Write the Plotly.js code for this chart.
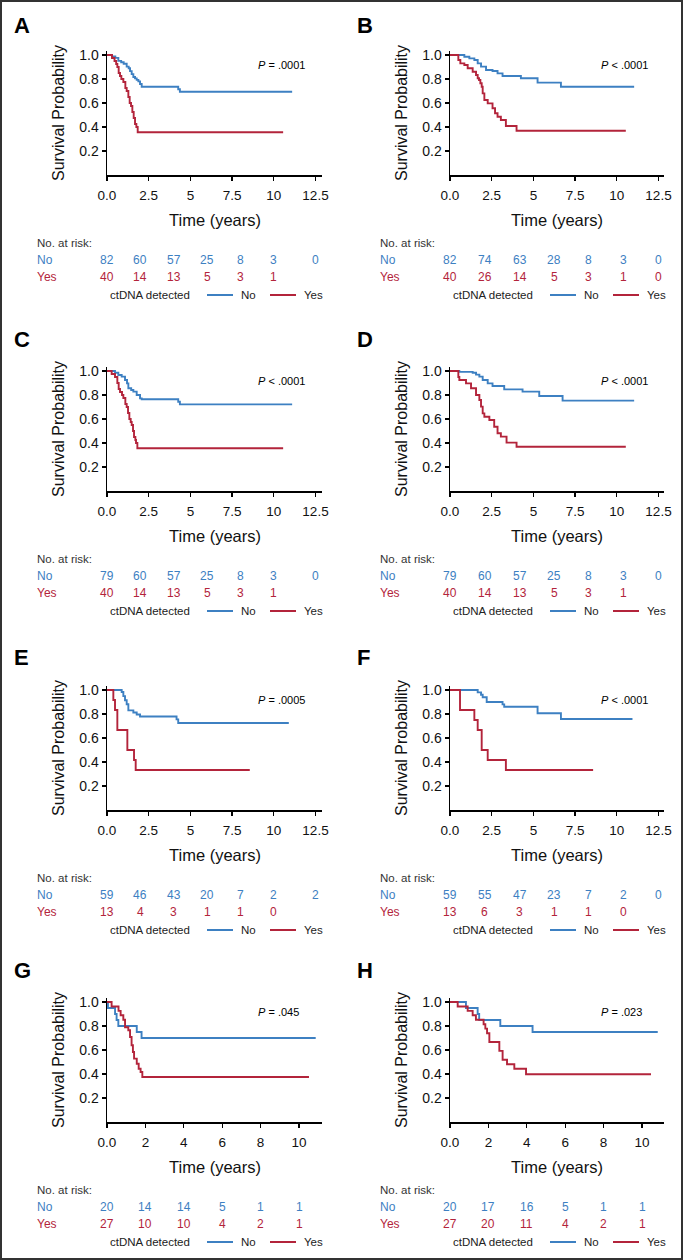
<!DOCTYPE html>
<html><head><meta charset="utf-8">
<script src="https://cdn.plot.ly/plotly-3.0.1.min.js"></script>
<style>html,body{margin:0;padding:0;background:#fff}#chart{width:683px;height:1260px}</style>
</head><body><div id="chart"></div>
<script>
// ---------------- DATA ----------------
const panelLabels = ['A','B','C','D','E','F','G','H'];
const pValues = ['<i>P</i> = .0001','<i>P</i> < .0001','<i>P</i> < .0001','<i>P</i> < .0001','<i>P</i> = .0005','<i>P</i> < .0001','<i>P</i> = .045','<i>P</i> = .023'];

// Panel A
const aNoT  = [0,0.3,0.5,0.68,0.85,1.0,1.18,1.3,1.38,1.48,1.58,1.68,1.78,1.88,1.98,2.08,4.27,4.37,11.1];
const aNoS  = [1.0,0.988,0.976,0.951,0.939,0.927,0.903,0.89,0.866,0.841,0.817,0.805,0.793,0.78,0.758,0.736,0.714,0.694,0.694];
const aYesT = [0,0.3,0.45,0.55,0.62,0.7,0.78,0.86,0.98,1.1,1.18,1.28,1.36,1.44,1.52,1.6,1.68,1.76,1.84,10.56];
const aYesS = [1.0,0.975,0.95,0.925,0.9,0.85,0.825,0.8,0.775,0.725,0.7,0.65,0.6,0.575,0.525,0.475,0.425,0.4,0.356,0.356];
// Panel B
const bNoT  = [0,0.86,1.16,1.46,1.66,1.86,2.16,2.55,2.85,3.15,4.25,5.25,6.65,11.04];
const bNoS  = [1.0,0.986,0.972,0.958,0.93,0.903,0.875,0.867,0.847,0.825,0.806,0.77,0.736,0.736];
const bYesT = [0,0.5,0.62,0.86,1.06,1.36,1.56,1.66,1.74,1.82,1.9,1.96,2.06,2.26,2.55,2.7,2.85,3.05,3.35,3.99,10.54];
const bYesS = [1.0,0.958,0.93,0.917,0.889,0.861,0.833,0.806,0.792,0.764,0.736,0.68,0.625,0.597,0.556,0.514,0.486,0.458,0.408,0.369,0.369];
// Panel C
const cNoT  = [0,0.48,0.68,0.88,1.08,1.2,1.28,1.45,1.58,1.78,1.98,2.08,4.27,4.37,11.1];
const cNoS  = [1.0,0.986,0.967,0.953,0.925,0.897,0.856,0.842,0.828,0.8,0.772,0.764,0.744,0.722,0.722];
const cYesT = [0,0.28,0.48,0.62,0.7,0.78,0.9,0.98,1.1,1.18,1.26,1.34,1.42,1.48,1.56,1.62,1.7,1.74,1.82,10.56];
const cYesS = [1.0,0.975,0.95,0.9,0.85,0.825,0.8,0.775,0.725,0.7,0.65,0.6,0.575,0.55,0.5,0.45,0.425,0.4,0.356,0.356];
// Panel D
const dNoT  = [0,0.56,1.36,1.56,1.76,1.96,2.26,2.55,3.25,4.35,5.35,6.75,11.04];
const dNoS  = [1.0,0.993,0.986,0.97,0.953,0.925,0.897,0.875,0.847,0.828,0.792,0.753,0.753];
const dYesT = [0,0.5,0.56,0.96,1.26,1.56,1.76,1.86,1.96,2.06,2.36,2.65,2.85,3.05,3.39,3.99,10.54];
const dYesS = [1.0,0.95,0.925,0.897,0.856,0.8,0.758,0.703,0.647,0.619,0.592,0.536,0.481,0.453,0.403,0.369,0.369];
// Panel E
const eNoT  = [0,0.88,0.98,1.08,1.18,1.28,1.58,1.78,1.98,4.17,4.27,10.9];
const eNoS  = [1.0,0.983,0.949,0.915,0.881,0.83,0.813,0.796,0.779,0.755,0.725,0.725];
const eYesT = [0,0.38,0.48,0.62,1.22,1.62,1.72,8.56];
const eYesS = [1.0,0.917,0.833,0.667,0.5,0.417,0.333,0.333];
// Panel F
const fNoT  = [0,1.66,1.86,1.96,2.2,3.15,3.25,5.25,6.65,10.94];
const fNoS  = [1.0,0.98,0.96,0.94,0.9,0.88,0.86,0.806,0.758,0.758];
const fYesT = [0,0.6,1.46,1.66,1.9,2.26,3.35,8.58];
const fYesS = [1.0,0.833,0.75,0.667,0.5,0.417,0.333,0.333];
// Panel G
const gNoT  = [0,0.05,0.42,0.5,0.59,1.55,1.8,10.87];
const gNoS  = [1.0,0.95,0.9,0.85,0.8,0.75,0.7,0.7];
const gYesT = [0,0.24,0.6,0.71,0.85,0.94,1.11,1.2,1.28,1.35,1.41,1.55,1.65,1.75,1.84,10.52];
const gYesS = [1.0,0.963,0.926,0.889,0.852,0.79,0.764,0.708,0.639,0.583,0.528,0.486,0.444,0.417,0.375,0.375];
// Panel H
const hNoT  = [0,0.83,1.44,1.52,2.62,4.3,10.82];
const hNoS  = [1.0,0.95,0.9,0.85,0.8,0.75,0.75];
const hYesT = [0,0.4,0.92,1.18,1.35,1.75,1.84,1.93,2.05,2.57,2.74,2.97,3.35,3.96,10.47];
const hYesS = [1.0,0.963,0.926,0.889,0.852,0.815,0.778,0.74,0.667,0.593,0.519,0.481,0.444,0.398,0.398];

// Numbers at risk
const riskTimesACE = [0,2,4,6,8,10,12.5];
const riskTimesBDF = [0,2.083,4.167,6.25,8.333,10.417,12.5];
const riskTimesGH  = [0,2,4,6,8,10];
const aRiskNo = [82,60,57,25,8,3,0];  const aRiskYes = [40,14,13,5,3,1];
const bRiskNo = [82,74,63,28,8,3,0];  const bRiskYes = [40,26,14,5,3,1,0];
const cRiskNo = [79,60,57,25,8,3,0];  const cRiskYes = [40,14,13,5,3,1];
const dRiskNo = [79,60,57,25,8,3,0];  const dRiskYes = [40,14,13,5,3,1];
const eRiskNo = [59,46,43,20,7,2,2];  const eRiskYes = [13,4,3,1,1,0];
const fRiskNo = [59,55,47,23,7,2,0];  const fRiskYes = [13,6,3,1,1,0];
const gRiskNo = [20,14,14,5,1,1];     const gRiskYes = [27,10,10,4,2,1];
const hRiskNo = [20,17,16,5,1,1];     const hRiskYes = [27,20,11,4,2,1];

const xTicks12 = [0,2.5,5,7.5,10,12.5]; const xTickText12 = ['0.0','2.5','5','7.5','10','12.5'];
const xTicks10 = [0,2,4,6,8,10];       const xTickText10 = ['0.0','2','4','6','8','10'];
const yTicks = [0.2,0.4,0.6,0.8,1.0];  const yTickText = ['0.2','0.4','0.6','0.8','1.0'];

// ---------------- LAYOUT HELPERS ----------------
const W = 683, H = 1260;
const BLUE = '#3d80c2', RED = '#b3243b';
const FONT = 'Liberation Sans, Arial, Helvetica, sans-serif';
const px = x => x / W;
const py = y => 1 - y / H;

const curves = [
  [aNoT,aNoS,aYesT,aYesS],[bNoT,bNoS,bYesT,bYesS],[cNoT,cNoS,cYesT,cYesS],[dNoT,dNoS,dYesT,dYesS],
  [eNoT,eNoS,eYesT,eYesS],[fNoT,fNoS,fYesT,fYesS],[gNoT,gNoS,gYesT,gYesS],[hNoT,hNoS,hYesT,hYesS]
];
const risks = [
  [aRiskNo,aRiskYes,riskTimesACE],[bRiskNo,bRiskYes,riskTimesBDF],[cRiskNo,cRiskYes,riskTimesACE],[dRiskNo,dRiskYes,riskTimesBDF],
  [eRiskNo,eRiskYes,riskTimesACE],[fRiskNo,fRiskYes,riskTimesBDF],[gRiskNo,gRiskYes,riskTimesGH],[hRiskNo,hRiskYes,riskTimesGH]
];

// pixel geometry
const colAxisX = [107, 450];
const colAxisEnd = [322, 664];
const rowZero = [175, 491, 810, 1122];
const rowOne  = [55, 371, 690, 1002];
const labelY  = [25, 340, 657, 970];

const traces = [];
const layout = {
  width: W, height: H,
  margin: {l:0, r:0, t:0, b:0},
  paper_bgcolor: '#fff', plot_bgcolor: 'rgba(0,0,0,0)',
  showlegend: false,
  font: {family: FONT, color: '#000', size: 13},
  annotations: [], shapes: []
};

for (let i = 0; i < 8; i++) {
  const col = i % 2, row = Math.floor(i / 2);
  const sfx = i === 0 ? '' : String(i + 1);
  const xa = 'x' + sfx, ya = 'y' + sfx;
  const isGH = row === 3;
  const x0 = colAxisX[col], x1 = colAxisEnd[col];
  const pxPerYear = isGH ? 19.2 : 16.68;
  const xMax = (x1 - x0) / pxPerYear;
  const yb = rowZero[row], y1 = rowOne[row];
  const pxPerUnit = yb - y1;
  const yTop = yb - 1.03 * pxPerUnit;

  const [nT, nS, yT, yS] = curves[i];
  traces.push({x: nT, y: nS, xaxis: xa, yaxis: ya, type: 'scatter', mode: 'lines',
    line: {shape: 'hv', color: BLUE, width: 1.9}, name: 'No', hoverinfo: 'skip'});
  traces.push({x: yT, y: yS, xaxis: xa, yaxis: ya, type: 'scatter', mode: 'lines',
    line: {shape: 'hv', color: RED, width: 1.9}, name: 'Yes', hoverinfo: 'skip'});

  layout['xaxis' + sfx] = {
    domain: [px(x0), px(x1)], anchor: ya, range: [0, xMax],
    showline: true, linecolor: '#000', linewidth: 1.5, ticks: 'outside', ticklen: 4, tickwidth: 1.3,
    tickcolor: '#000', showgrid: false, zeroline: false, ticklabelstandoff: 3,
    tickvals: isGH ? xTicks10 : xTicks12, ticktext: isGH ? xTickText10 : xTickText12,
    tickfont: {size: 13.5, family: FONT, color: '#111'}, fixedrange: true
  };
  layout['yaxis' + sfx] = {
    domain: [py(yb), py(yTop)], anchor: xa, range: [0, 1.03],
    showline: true, linecolor: '#000', linewidth: 1.5, ticks: 'outside', ticklen: 4, tickwidth: 1.3,
    tickcolor: '#000', showgrid: false, zeroline: false,
    tickvals: yTicks, ticktext: yTickText,
    tickfont: {size: 14, family: FONT, color: '#111'}, fixedrange: true
  };

  layout.annotations.push({text: '<b>' + panelLabels[i] + '</b>', xref: 'paper', yref: 'paper',
    x: px(col === 0 ? 12 : 355), y: py(labelY[row]), xanchor: 'left', yanchor: 'middle',
    showarrow: false, font: {size: 22, family: FONT, color: '#000'}});
  layout.annotations.push({text: pValues[i], xref: 'paper', yref: 'paper',
    x: px(isGH ? x0 + 194 : x0 + 200), y: py(y1 + 10), xanchor: 'right', yanchor: 'middle',
    showarrow: false, font: {size: 11, family: FONT, color: '#000'}});
  layout.annotations.push({text: 'Survival Probability', xref: 'paper', yref: 'paper',
    x: px(x0 - 49), y: py((yb + y1) / 2 - 2), xanchor: 'center', yanchor: 'middle', textangle: -90,
    showarrow: false, font: {size: 16, family: FONT, color: '#111'}});
  layout.annotations.push({text: 'Time (years)', xref: 'paper', yref: 'paper',
    x: px((x0 + x1) / 2), y: py(yb + 45), xanchor: 'center', yanchor: 'middle',
    showarrow: false, font: {size: 16.5, family: FONT, color: '#111'}});

  const [rNo, rYes, rT] = risks[i];
  const lx = x0 - 72;
  layout.annotations.push({text: 'No. at risk:', xref: 'paper', yref: 'paper', x: px(lx), y: py(yb + 68),
    xanchor: 'left', yanchor: 'middle', showarrow: false, font: {size: 11.5, family: FONT, color: '#333'}});
  layout.annotations.push({text: 'No', xref: 'paper', yref: 'paper', x: px(lx), y: py(yb + 85),
    xanchor: 'left', yanchor: 'middle', showarrow: false, font: {size: 12, family: FONT, color: BLUE}});
  layout.annotations.push({text: 'Yes', xref: 'paper', yref: 'paper', x: px(lx), y: py(yb + 102),
    xanchor: 'left', yanchor: 'middle', showarrow: false, font: {size: 12, family: FONT, color: RED}});
  rNo.forEach((v, k) => layout.annotations.push({text: String(v), xref: xa, yref: 'paper', x: rT[k], y: py(yb + 85),
    xanchor: 'center', yanchor: 'middle', showarrow: false, font: {size: 12, family: FONT, color: BLUE}}));
  rYes.forEach((v, k) => layout.annotations.push({text: String(v), xref: xa, yref: 'paper', x: rT[k], y: py(yb + 102),
    xanchor: 'center', yanchor: 'middle', showarrow: false, font: {size: 12, family: FONT, color: RED}}));

  const ly = yb + 120;
  layout.annotations.push({text: 'ctDNA detected', xref: 'paper', yref: 'paper', x: px(x0 + 85), y: py(ly),
    xanchor: 'right', yanchor: 'middle', showarrow: false, font: {size: 11.5, family: FONT, color: '#222'}});
  layout.shapes.push({type: 'line', xref: 'paper', yref: 'paper', x0: px(x0 + 100), x1: px(x0 + 126),
    y0: py(ly), y1: py(ly), line: {color: BLUE, width: 2}});
  layout.annotations.push({text: 'No', xref: 'paper', yref: 'paper', x: px(x0 + 132), y: py(ly),
    xanchor: 'left', yanchor: 'middle', showarrow: false, font: {size: 11.5, family: FONT, color: '#222'}});
  layout.shapes.push({type: 'line', xref: 'paper', yref: 'paper', x0: px(x0 + 163), x1: px(x0 + 189),
    y0: py(ly), y1: py(ly), line: {color: RED, width: 2}});
  layout.annotations.push({text: 'Yes', xref: 'paper', yref: 'paper', x: px(x0 + 195), y: py(ly),
    xanchor: 'left', yanchor: 'middle', showarrow: false, font: {size: 11.5, family: FONT, color: '#222'}});
}

layout.shapes.push({type: 'rect', xref: 'paper', yref: 'paper', x0: px(1), x1: px(682), y0: py(1), y1: py(1259),
  line: {color: '#333', width: 2}, fillcolor: 'rgba(0,0,0,0)'});

Plotly.newPlot('chart', traces, layout, {displayModeBar: false, staticPlot: true});
</script>
</body></html>
